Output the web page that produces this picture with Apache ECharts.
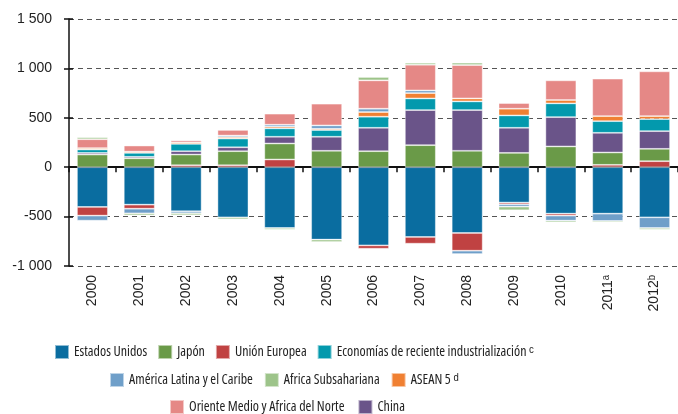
<!DOCTYPE html>
<html>
<head>
<meta charset="utf-8">
<script src="https://cdn.jsdelivr.net/npm/echarts@6/dist/echarts.min.js"></script>
<style>
  html, body { margin: 0; padding: 0; background: #fff; }
  #chart { width: 678px; height: 414px; }
</style>
</head>
<body>
<div id="chart"></div>
<script>
var years = ['2000', '2001', '2002', '2003', '2004', '2005', '2006', '2007', '2008', '2009', '2010', '2011ᵃ', '2012ᵇ'];

// valores (miles de millones de dolares)
var estadosUnidos = [-402, -379, -446, -507, -615, -733, -791, -706, -666, -358, -470, -470, -507];
var unionEuropea = [-88, -41, 20, 20, 78, 0, -34, -68, -179, -17, -20, 24, 61];
var japon = [128, 90, 108, 142, 162, 166, 162, 223, 166, 145, 210, 125, 125];
var china = [17, 15, 34, 40, 68, 142, 237, 355, 412, 254, 297, 199, 179];
var nie = [34, 40, 74, 88, 85, 68, 112, 118, 88, 125, 139, 118, 122];
var asean = [14, 12, 15, 15, 17, 13, 47, 54, 30, 68, 34, 51, 30];
var americaLatina = [-51, -47, -20, 15, 20, 34, 34, 27, -34, -24, -51, -74, -108];
var orienteMedio = [90, 62, 20, 57, 112, 220, 287, 260, 338, 57, 199, 379, 453];
var africa = [20, -20, -20, -20, -17, -24, 34, 20, 24, -37, -17, -14, -17];

var yTicks = { '1500': '1 500', '1000': '1 000', '-1000': '-1 000' };

var chart = echarts.init(document.getElementById('chart'));

function bar(name, data, color) {
    return {
        name: name,
        type: 'bar',
        stack: 'total',
        barWidth: '66%',
        data: data,
        itemStyle: {
            color: color,
            borderColor: 'rgba(255,255,255,0.55)',
            borderWidth: 0.8
        }
    };
}

// letra estrecha para la leyenda
var legendText = {
    fontFamily: '"Open Sans", sans-serif',
    fontWeight: 'normal condensed',
    fontSize: 14,
    color: '#222'
};

function legendRow(left, top, gap, names) {
    return {
        left: left, top: top, padding: 0, itemGap: gap,
        itemWidth: 14, itemHeight: 14, icon: 'rect',
        textStyle: legendText,
        data: names
    };
}

var option = {
    animation: false,
    textStyle: { fontFamily: '"Liberation Sans", Arial, sans-serif' },
    grid: { left: 69, right: -2, top: 19, bottom: 148 },
    legend: [
        legendRow(54, 344, 10, ['Estados Unidos', 'Japón', 'Unión Europea', 'Economías de reciente industrialización ᶜ']),
        legendRow(109, 372, 11, ['América Latina y el Caribe', 'Africa Subsahariana', 'ASEAN 5 ᵈ']),
        legendRow(169, 399, 13, ['Oriente Medio y Africa del Norte', 'China'])
    ],
    xAxis: [{
        type: 'category',
        data: years,
        axisLine: { onZero: true, lineStyle: { color: '#111', width: 2 } },
        axisTick: { show: true, interval: 0, length: 5, lineStyle: { color: '#111', width: 1.5 } },
        axisLabel: { show: false }
    }, {
        type: 'category',
        data: years,
        position: 'bottom',
        axisLine: { show: false },
        axisTick: { show: false },
        axisLabel: { rotate: 90, interval: 0, margin: 9, fontSize: 14, color: '#222' }
    }],
    yAxis: [{
        type: 'value',
        min: -1000,
        max: 1500,
        interval: 500,
        axisLine: { show: true, lineStyle: { color: '#111', width: 1.5 } },
        axisTick: { show: true, length: 5, lineStyle: { color: '#111', width: 1.5 } },
        axisLabel: {
            margin: 17,
            fontSize: 14,
            color: '#222',
            formatter: function (v) { return yTicks[v] || String(v); }
        },
        splitLine: { lineStyle: { color: '#555', type: [5, 4], width: 1.2 } }
    }, {
        // marcas hacia dentro del eje
        type: 'value',
        position: 'left',
        min: -1000,
        max: 1500,
        interval: 500,
        axisLine: { show: false },
        axisTick: { show: true, inside: true, length: 4, lineStyle: { color: '#111', width: 1.5 } },
        axisLabel: { show: false },
        splitLine: { show: false }
    }],
    series: [
        bar('Estados Unidos', estadosUnidos, '#0a6da0'),
        bar('Unión Europea', unionEuropea, '#c04242'),
        bar('Japón', japon, '#6a9a48'),
        bar('China', china, '#6a5489'),
        bar('Economías de reciente industrialización ᶜ', nie, '#0399ad'),
        bar('ASEAN 5 ᵈ', asean, '#f08032'),
        bar('América Latina y el Caribe', americaLatina, '#6f9fc9'),
        bar('Oriente Medio y Africa del Norte', orienteMedio, '#e58886'),
        bar('Africa Subsahariana', africa, '#9dc48a')
    ]
};

chart.setOption(option);
</script>
</body>
</html>
